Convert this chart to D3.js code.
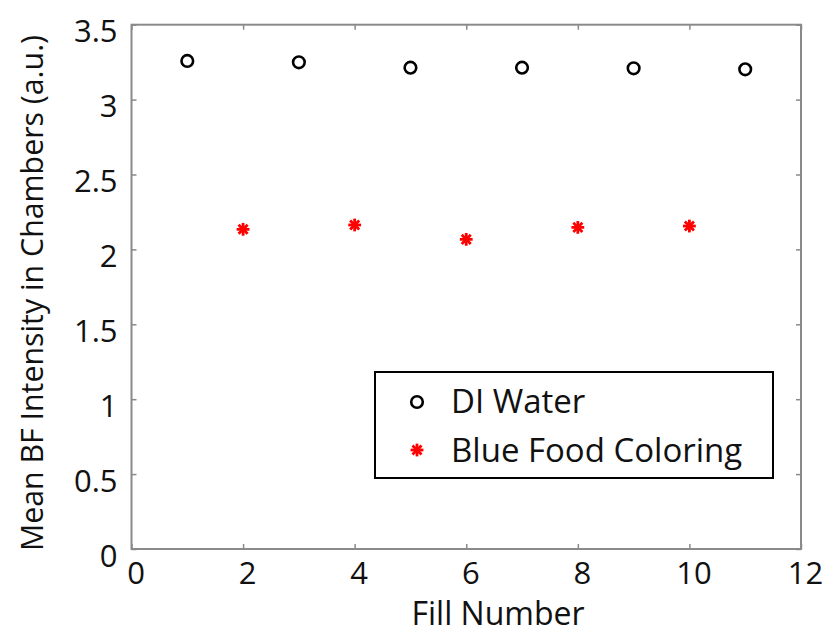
<!DOCTYPE html>
<html><head><meta charset="utf-8">
<script src="https://cdn.jsdelivr.net/npm/d3@7"></script>
<style>body{margin:0;background:#fff}text{font-family:"Open Sans",sans-serif;fill:#111}</style>
</head><body>
<svg id="c" width="830" height="634"></svg>
<script>
const waterX = [1, 3, 5, 7, 9, 11];
const waterY = [3.258, 3.249, 3.213, 3.213, 3.209, 3.202];
const dyeX = [2, 4, 6, 8, 10];
const dyeY = [2.134, 2.163, 2.067, 2.147, 2.156];
const xTicks = [0, 2, 4, 6, 8, 10, 12];
const yTicks = [0, 0.5, 1, 1.5, 2, 2.5, 3, 3.5];
const seriesNames = ["DI Water", "Blue Food Coloring"];

const svg = d3.select("#c");
const L = 131.5, R = 801, T = 24.7, B = 549;
const x = d3.scaleLinear().domain([0, 12]).range([L, R]);
const y = d3.scaleLinear().domain([0, 3.5]).range([B, T]);
const axisCol = "#8a8a8a";
const fs = 31;

// frame
svg.append("rect").attr("x", L).attr("y", T).attr("width", R - L).attr("height", B - T)
  .attr("fill", "none").attr("stroke", axisCol).attr("stroke-width", 2);

// ticks via axes
const tk = 5;
const gb = svg.append("g").attr("transform", `translate(0,${B})`)
  .call(d3.axisBottom(x).tickValues(xTicks).tickSize(-tk).tickFormat(d3.format("d")));
const gt = svg.append("g").attr("transform", `translate(0,${T})`)
  .call(d3.axisTop(x).tickValues(xTicks).tickSize(-tk).tickFormat(""));
const gl = svg.append("g").attr("transform", `translate(${L},0)`)
  .call(d3.axisLeft(y).tickValues(yTicks).tickSize(-tk).tickFormat(d => d3.format("")(d)));
const gr = svg.append("g").attr("transform", `translate(${R},0)`)
  .call(d3.axisRight(y).tickValues(yTicks).tickSize(-tk).tickFormat(""));
[gb, gt, gl, gr].forEach(g => {
  g.select(".domain").remove();
  g.selectAll(".tick line").attr("stroke", axisCol).attr("stroke-width", 1.5);
  g.selectAll("text").style("font-size", fs + "px").attr("fill", "#111").style("font-family", '"Open Sans",sans-serif');
});
gb.selectAll(".tick text").attr("y", 13).attr("dy", "0.71em").attr("dx", 4);
gl.selectAll(".tick text").attr("x", -14).attr("dy", "0.55em");

// axis titles
svg.append("text").attr("x", 498).attr("y", 625).attr("text-anchor", "middle")
  .style("font-size", "32px").text("Fill Number");
svg.append("text").attr("transform", `translate(43,293) rotate(-90)`)
  .attr("text-anchor", "middle").style("font-size", "30.3px")
  .text("Mean BF Intensity in Chambers (a.u.)");

// markers
function circle(g, cx, cy) {
  g.append("circle").attr("cx", cx).attr("cy", cy).attr("r", 5.8)
    .attr("fill", "none").attr("stroke", "#000").attr("stroke-width", 2.6);
}
function star(g, cx, cy) {
  const r = 6.4;
  [0, 45, 90, 135].forEach(a => {
    const rad = a * Math.PI / 180;
    g.append("line").attr("x1", cx - r * Math.cos(rad)).attr("y1", cy - r * Math.sin(rad))
      .attr("x2", cx + r * Math.cos(rad)).attr("y2", cy + r * Math.sin(rad))
      .attr("stroke", "#ff0000").attr("stroke-width", 2.8);
  });
}
const pts = svg.append("g");
waterX.forEach((d, i) => circle(pts, x(d), y(waterY[i])));
dyeX.forEach((d, i) => star(pts, x(d), y(dyeY[i])));

// legend
const lg = svg.append("g");
lg.append("rect").attr("x", 375).attr("y", 372).attr("width", 398).attr("height", 106)
  .attr("fill", "#fff").attr("stroke", "#000").attr("stroke-width", 2);
circle(lg, 417, 402);
star(lg, 417, 450);
lg.append("text").attr("x", 451).attr("y", 413).style("font-size", "33px").text(seriesNames[0]);
lg.append("text").attr("x", 451).attr("y", 462).style("font-size", "33px").text(seriesNames[1]);
</script>
</body></html>
